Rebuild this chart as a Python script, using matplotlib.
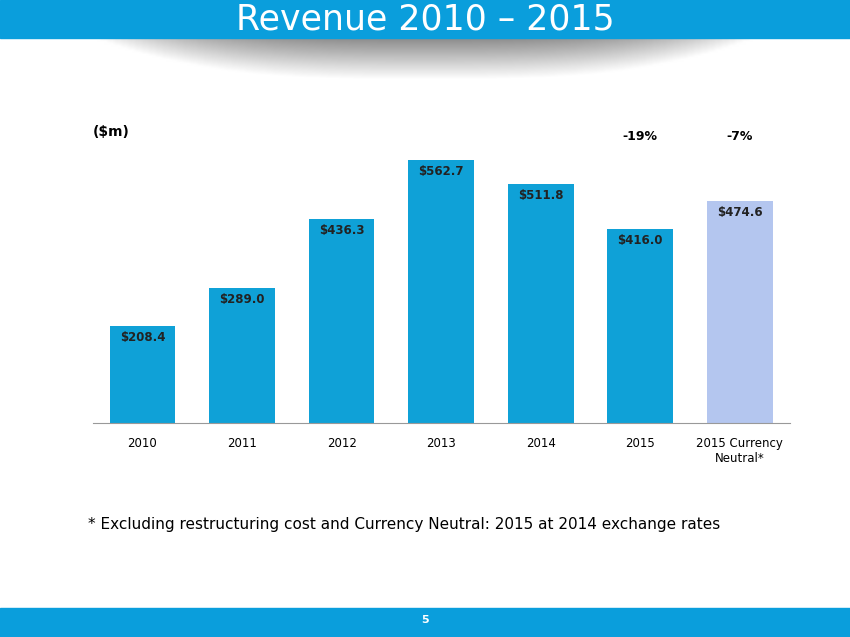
import matplotlib.pyplot as plt
import numpy as np
from matplotlib.patches import Rectangle

years = ['2010', '2011', '2012', '2013', '2014', '2015', '2015 Currency\nNeutral*']
revenue = [208.4, 289.0, 436.3, 562.7, 511.8, 416.0, 474.6]
labels = ['$208.4', '$289.0', '$436.3', '$562.7', '$511.8', '$416.0', '$474.6']
colors = ['#0FA1D7'] * 6 + ['#B4C6EF']

fig = plt.figure(figsize=(8.5, 6.37), dpi=100)

# 顶部蓝色标题栏
bg = fig.add_axes([0, 0, 1, 1])
bg.set_xlim(0, 850)
bg.set_ylim(637, 0)
bg.axis('off')
bg.add_patch(Rectangle((0, 0), 850, 38, color='#0A9EDC'))
# 标题下方的灰色渐变阴影
grad = np.linspace(0.55, 1, 40).reshape(-1, 1) * np.ones((1, 100))
edge = np.abs(np.linspace(-1, 1, 100)) ** 3
shade = np.clip(grad + edge * 0.5, 0, 1)
bg.imshow(shade, extent=(80, 770, 80, 38), cmap='gray', vmin=0, vmax=1, aspect='auto')
bg.text(425, 19, 'Revenue 2010 – 2015', color='white', fontsize=25,
        ha='center', va='center')
# 底部蓝色栏
bg.add_patch(Rectangle((0, 608), 850, 29, color='#0A9EDC'))
bg.text(425, 620, '5', color='white', fontsize=8, fontweight='bold', ha='center', va='center')
bg.text(88, 525, '* Excluding restructuring cost and Currency Neutral: 2015 at 2014 exchange rates',
        fontsize=11, va='center')
bg.text(93, 132, '($m)', fontsize=10, fontweight='bold', va='center')
bg.text(640, 137, '-19%', fontsize=9, fontweight='bold', ha='center', va='center')
bg.text(740, 137, '-7%', fontsize=9, fontweight='bold', ha='center', va='center')

# 柱状图
ax = fig.add_axes([0.109, 0.336, 0.82, 0.44])
x = np.arange(len(years))
ax.bar(x, revenue, width=0.66, color=colors)
for xi, v, lab in zip(x, revenue, labels):
    ax.text(xi, v - 25, lab, ha='center', va='center', fontsize=8.5,
            fontweight='bold', color='#222222')
ax.set_xlim(-0.5, 6.5)
ax.set_ylim(0, 600)
ax.set_xticks(x)
ax.set_xticklabels(years, fontsize=8.5)
ax.set_yticks([])
for s in ['top', 'right', 'left']:
    ax.spines[s].set_visible(False)
ax.spines['bottom'].set_color('#999999')
ax.tick_params(axis='x', length=0, pad=10)
ax.patch.set_alpha(0)

plt.savefig('out.png', dpi=100)
